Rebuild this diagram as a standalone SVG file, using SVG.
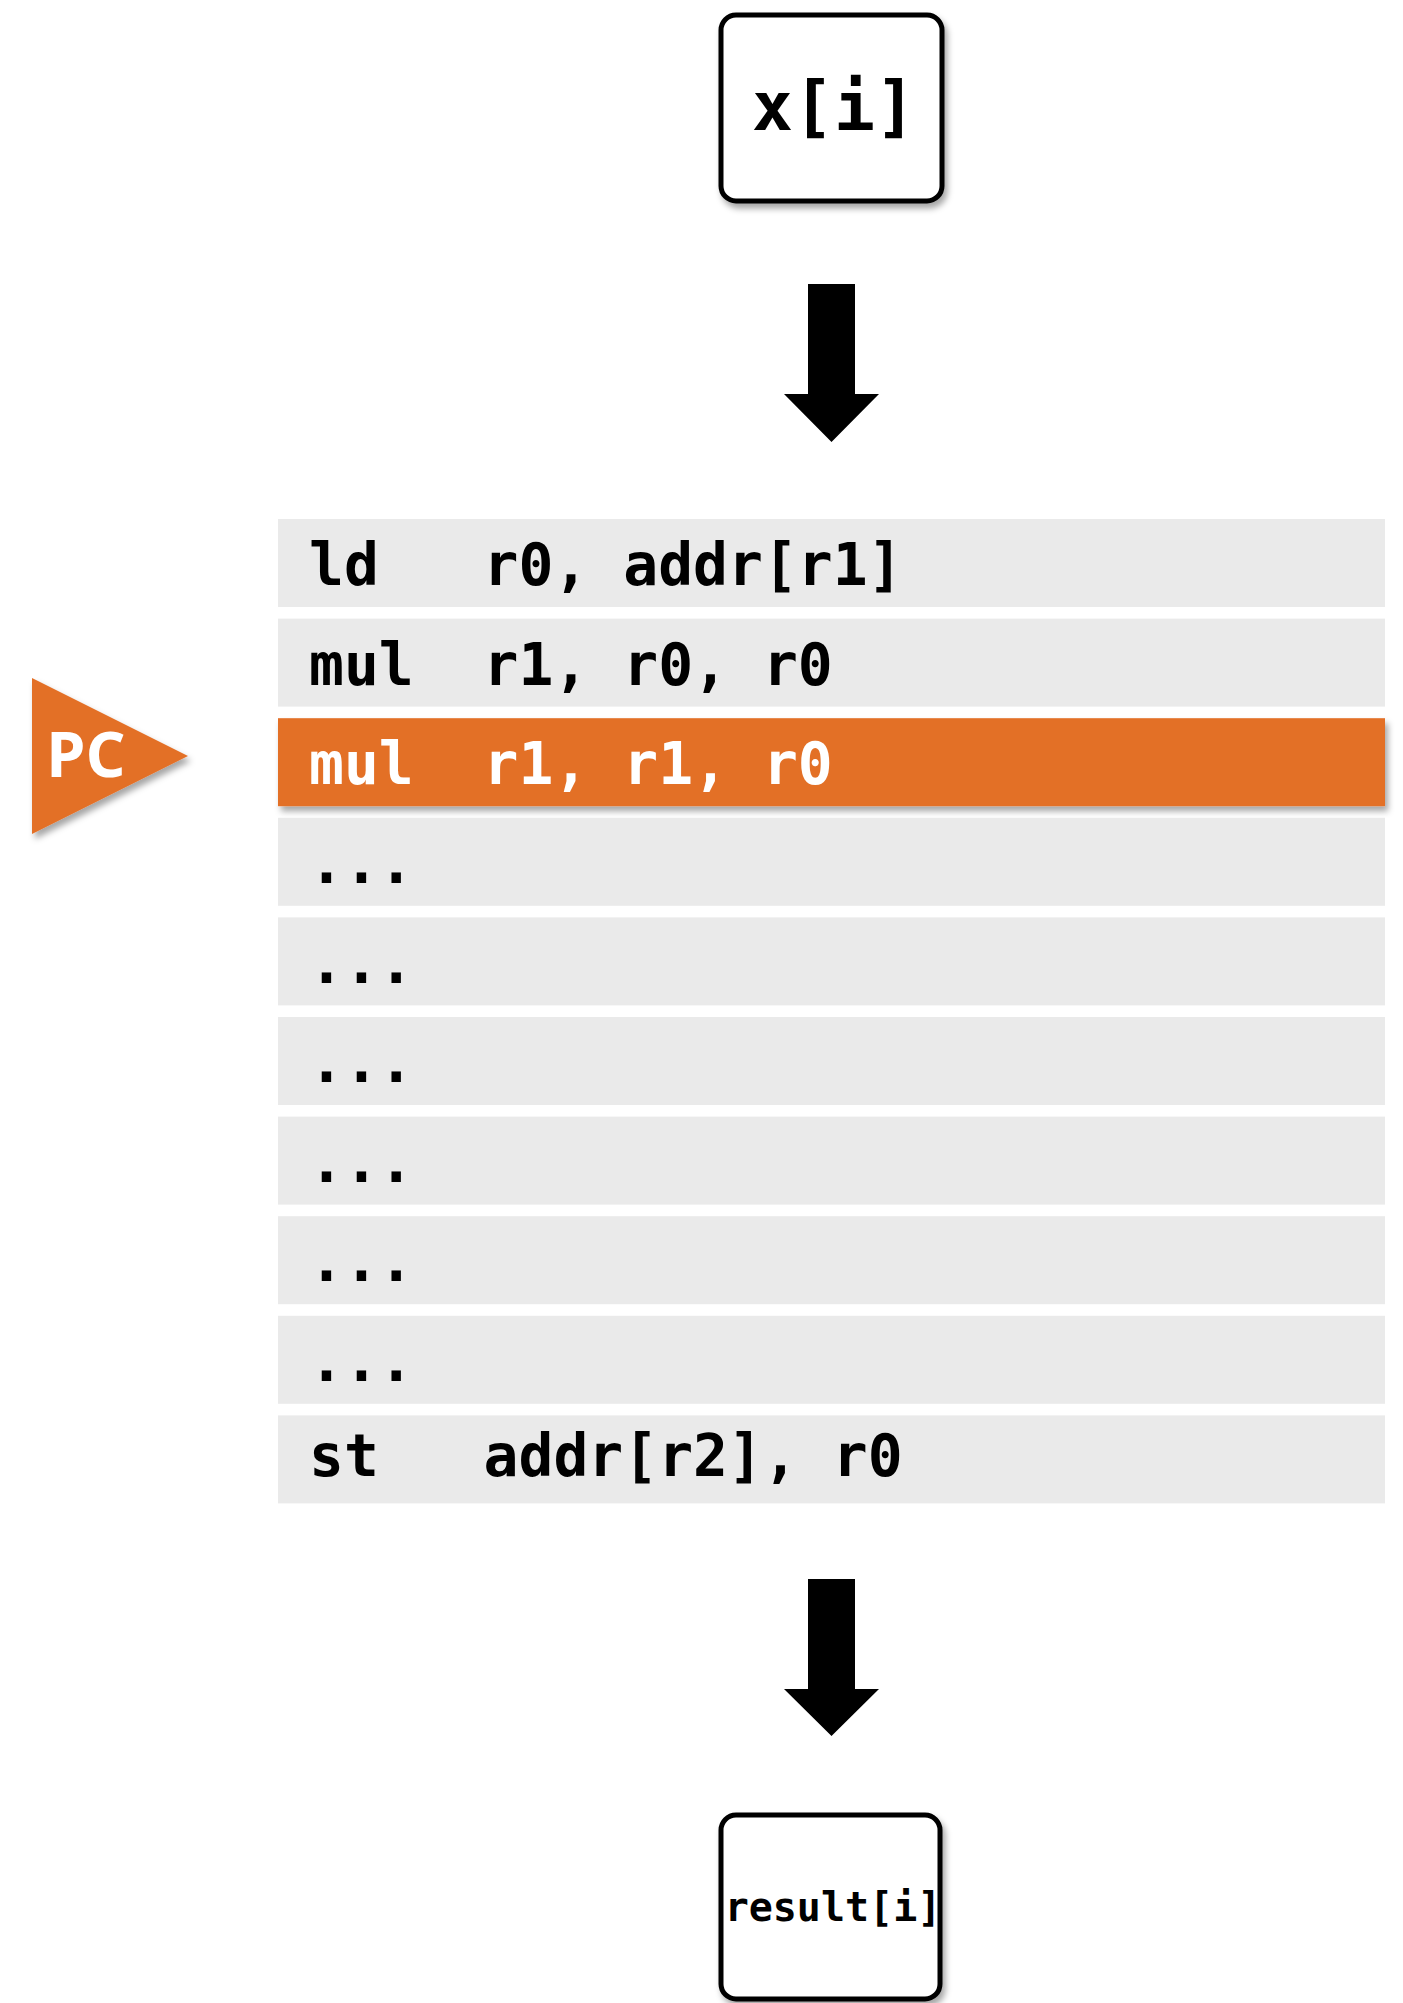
<svg xmlns="http://www.w3.org/2000/svg" width="1403" height="2003" viewBox="0 0 1403 2003">
  <defs>
    <filter id="sh" x="-20%" y="-20%" width="140%" height="160%">
      <feDropShadow dx="3" dy="5" stdDeviation="3" flood-color="#000" flood-opacity="0.35"/>
    </filter>
    <style>
      .row { fill: #EAEAEA; }
      .hl { fill: #E36F27; }
      .code { font-family: "DejaVu Sans Mono", "Liberation Mono", monospace; font-weight: bold; font-size: 58px; fill: #000; white-space: pre; }
      .codew { fill: #FFFFFF; }
      .box { fill: #FFFFFF; stroke: #000; stroke-width: 5; }
      .boxt { font-family: "DejaVu Sans Mono", "Liberation Mono", monospace; font-weight: bold; fill: #000; text-anchor: middle; }
      .arrow { fill: #000; }
    </style>
  </defs>
  <rect width="1403" height="2003" fill="#FFFFFF"/>

  <g id="input">
    <rect class="box" x="721" y="15" width="221" height="186" rx="15" filter="url(#sh)"/>
    <text class="boxt" x="834" y="130" font-size="68">x[i]</text>
  </g>

  <g id="connectors">
    <polygon class="arrow" points="808,284 855,284 855,394 879,394 831.5,442 784,394 808,394"/>
    <polygon class="arrow" points="808,1579 855,1579 855,1689 879,1689 831.5,1736 784,1689 808,1689"/>
  </g>

  <g id="program">
    <g id="row0"><rect class="row" x="278" y="519" width="1107" height="88"/><text class="code" x="309" y="585">ld   r0, addr[r1]</text></g>
    <g id="row1"><rect class="row" x="278" y="618.6" width="1107" height="88"/><text class="code" x="309" y="684.6">mul  r1, r0, r0</text></g>
    <g id="row2"><rect class="hl" x="278" y="718.2" width="1107" height="88" filter="url(#sh)"/><text class="code codew" x="309" y="784.2">mul  r1, r1, r0</text></g>
    <g id="row3"><rect class="row" x="278" y="817.8" width="1107" height="88"/><text class="code" x="309" y="883">...</text></g>
    <g id="row4"><rect class="row" x="278" y="917.4" width="1107" height="88"/><text class="code" x="309" y="982.6">...</text></g>
    <g id="row5"><rect class="row" x="278" y="1017" width="1107" height="88"/><text class="code" x="309" y="1082.2">...</text></g>
    <g id="row6"><rect class="row" x="278" y="1116.6" width="1107" height="88"/><text class="code" x="309" y="1181.8">...</text></g>
    <g id="row7"><rect class="row" x="278" y="1216.2" width="1107" height="88"/><text class="code" x="309" y="1281.4">...</text></g>
    <g id="row8"><rect class="row" x="278" y="1315.8" width="1107" height="88"/><text class="code" x="309" y="1381">...</text></g>
    <g id="row9"><rect class="row" x="278" y="1415.4" width="1107" height="88"/><text class="code" x="309" y="1476">st   addr[r2], r0</text></g>
  </g>

  <g id="pc">
    <polygon points="32,678 188,756 32,834" fill="#E36F27" filter="url(#sh)"/>
    <text x="46" y="777" font-family="'Open Sans', 'Noto Sans', sans-serif" font-weight="bold" font-size="63" fill="#FFFFFF">PC</text>
  </g>

  <g id="output">
    <rect class="box" x="721" y="1815" width="219" height="184" rx="15" filter="url(#sh)"/>
    <text class="boxt" x="833" y="1921" font-size="40">result[i]</text>
  </g>
</svg>
